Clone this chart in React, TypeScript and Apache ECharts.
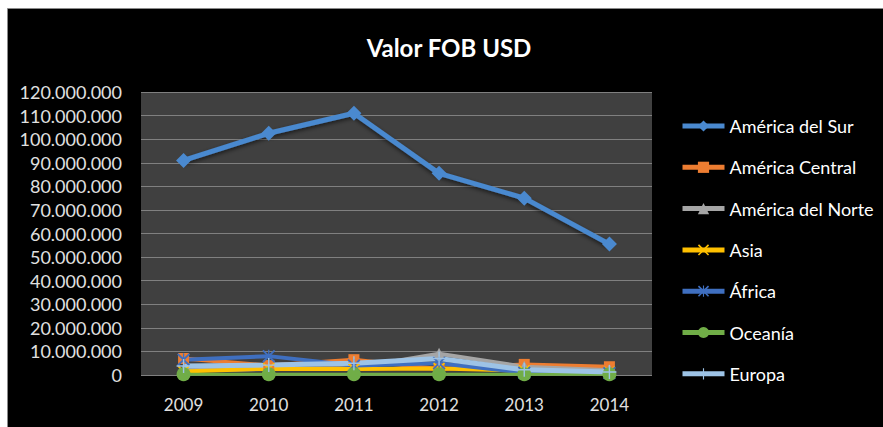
import React, { useEffect, useRef } from "react";
import * as echarts from "echarts";

const years = ["2009", "2010", "2011", "2012", "2013", "2014"];
const seriesNames = [
  "América del Sur",
  "América Central",
  "América del Norte",
  "Asia",
  "África",
  "Oceanía",
  "Europa",
];
const americaSur = [91000000, 102500000, 111000000, 85500000, 75000000, 55500000];
const americaCentral = [7000000, 4000000, 6500000, 2500000, 4500000, 3500000];
const americaNorte = [2000000, 2500000, 3000000, 9000000, 3500000, 2000000];
const asia = [1500000, 2700000, 2500000, 2800000, 1800000, 1300000];
const africa = [6500000, 8000000, 4000000, 5000000, 1000000, 800000];
const oceania = [300000, 300000, 300000, 300000, 300000, 300000];
const europa = [3800000, 4200000, 5000000, 7000000, 2200000, 1300000];

const colors = ["#4a89cf", "#ed7d31", "#a5a5a5", "#ffc000", "#3f6fc0", "#70ad47", "#9dc3e6"];

const X_PATH = "path://M0,1 L1,0 L5,4 L9,0 L10,1 L6,5 L10,9 L9,10 L5,6 L1,10 L0,9 L4,5 Z";
const AST_PATH =
  "path://M0,1 L1,0 L5,4 L9,0 L10,1 L6,5 L10,9 L9,10 L5,6 L1,10 L0,9 L4,5 Z M4.5,0 L5.5,0 L5.5,10 L4.5,10 Z";
const PLUS_PATH = "path://M4.5,0 H5.5 V4.5 H10 V5.5 H5.5 V10 H4.5 V5.5 H0 V4.5 H4.5 Z";

const fmt = (v: number) => String(v).replace(/\B(?=(\d{3})+(?!\d))/g, ".");

export default function App() {
  const ref = useRef<HTMLDivElement>(null);
  useEffect(() => {
    if (!ref.current) return;
    const chart = echarts.init(ref.current, undefined, { renderer: "svg" });
    const data = [americaSur, americaCentral, americaNorte, asia, africa, oceania, europa];
    const symbols = ["diamond", "rect", "triangle", X_PATH, AST_PATH, "circle", PLUS_PATH];
    const sizes = [15, 11, 12, 12, 13, 14, 14];
    const widths = [5, 4, 4, 4, 4, 3, 5];
    const font = "Lato, 'Noto Sans', sans-serif";
    chart.setOption({
      animation: false,
      backgroundColor: "#ffffff",
      color: colors,
      graphic: [
        {
          type: "rect",
          shape: { x: 7.5, y: 8.5, width: 880, height: 422 },
          style: { fill: "#000000", stroke: "#8a8a8a", lineWidth: 1 },
          z: -10,
        },
        {
          type: "text",
          x: 449,
          y: 47,
          style: {
            text: "Valor FOB USD",
            fill: "#ffffff",
            font: `bold 24px ${font}`,
            align: "center",
            verticalAlign: "middle",
          },
        },
      ],
      grid: {
        left: 141,
        right: 231,
        top: 92,
        bottom: 52,
        show: true,
        backgroundColor: "#404040",
        borderWidth: 0,
      },
      legend: {
        orient: "vertical",
        left: 675,
        top: 112,
        itemWidth: 42,
        itemHeight: 14,
        itemGap: 23.3,
        data: seriesNames,
        lineStyle: { width: 5 },
        textStyle: { color: "#ffffff", fontSize: 18, fontFamily: font, lineHeight: 18 },
      },
      xAxis: {
        type: "category",
        data: years,
        boundaryGap: true,
        axisLine: { show: false },
        axisTick: { show: false },
        axisLabel: { color: "#e0e0e0", fontSize: 17, fontFamily: font, margin: 21 },
      },
      yAxis: {
        type: "value",
        min: 0,
        max: 120000000,
        interval: 10000000,
        axisLine: { show: false },
        axisTick: { show: false },
        splitLine: { lineStyle: { color: "#808080", width: 1 } },
        axisLabel: {
          color: "#e0e0e0",
          fontSize: 18,
          fontFamily: font,
          margin: 19,
          formatter: (v: number) => fmt(v),
        },
      },
      series: seriesNames.map((name, i) => ({
        name,
        type: "line",
        data: data[i],
        symbol: symbols[i],
        symbolSize: sizes[i],
        showSymbol: true,
        lineStyle: {
          width: widths[i],
          color: colors[i],
          shadowBlur: i === 0 ? 4 : 0,
          shadowColor: "rgba(0,0,0,0.6)",
          shadowOffsetY: i === 0 ? 2 : 0,
        },
        itemStyle: { color: colors[i] },
      })),
    });
    return () => chart.dispose();
  }, []);
  return (
    <div
      ref={ref}
      style={{ position: "absolute", left: 0, top: 0, width: 883, height: 427 }}
    />
  );
}
